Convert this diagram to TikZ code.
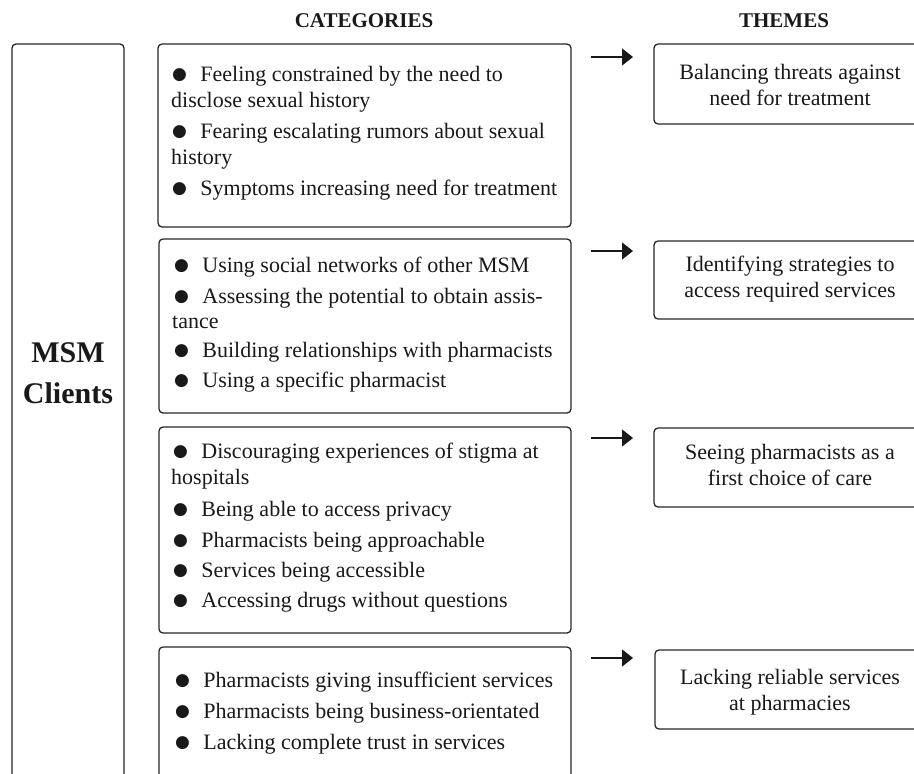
\documentclass[tikz,border=0pt]{standalone}
\usepackage{fontspec}
\setmainfont{Liberation Serif}
\newfontfamily\symfont{DejaVu Sans}
\usetikzlibrary{arrows.meta}
\newcommand\bul{\raisebox{1.5pt}{\symfont\fontsize{17}{17}\selectfont ●}\hspace{13.4pt}}
\begin{document}
\begin{tikzpicture}[x=1pt,y=-1pt,
  box/.style={draw=black!85, line width=1.3pt, rounded corners=4pt, inner sep=0pt, outer sep=0pt, anchor=north west},
  item/.style={anchor=base west, inner sep=0pt, text=black!90, font=\fontsize{22}{26}\selectfont},
  theme/.style={anchor=base, inner sep=0pt, text=black!90, font=\fontsize{22}{26}\selectfont},
  head/.style={anchor=base, inner sep=0pt, text=black!90, font=\bfseries\fontsize{21}{25}\selectfont},
  big/.style={anchor=base, inner sep=0pt, text=black!90, font=\bfseries\fontsize{30}{34}\selectfont},
  arr/.style={-{Triangle[length=11pt,width=17pt]}, line width=1.5pt, draw=black!90, fill=black!90}]
\useasboundingbox (0,0) rectangle (914,774);

% headers
\node[head] (hcat) at (364,27) {CATEGORIES};
\node[head] (hthm) at (784,27) {THEMES};

% left box
\node[box, minimum width=112pt, minimum height=760pt] (msm) at (12,44) {};
\node[big] (msm1) at (68,362) {MSM};
\node[big] (msm2) at (68,403) {Clients};

% category boxes
\node[box, minimum width=413pt, minimum height=183pt] (c1) at (158,44) {};
\node[box, minimum width=412pt, minimum height=174pt] (c2) at (159,239) {};
\node[box, minimum width=412pt, minimum height=206pt] (c3) at (159,427) {};
\node[box, minimum width=412pt, minimum height=160pt] (c4) at (159,647) {};

% theme boxes
\node[box, minimum width=273pt, minimum height=80pt] (t1) at (654,44) {};
\node[box, minimum width=273pt, minimum height=78pt] (t2) at (654,241) {};
\node[box, minimum width=273pt, minimum height=79pt] (t3) at (654,428) {};
\node[box, minimum width=273pt, minimum height=79pt] (t4) at (655,650) {};

% arrows
\coordinate (a1s) at (591,57);  \coordinate (a1e) at (633,57);
\coordinate (a2s) at (591,251); \coordinate (a2e) at (633,251);
\coordinate (a3s) at (591,438); \coordinate (a3e) at (633,438);
\coordinate (a4s) at (591,658); \coordinate (a4e) at (633,658);
\draw[arr] (a1s) -- (a1e);
\draw[arr] (a2s) -- (a2e);
\draw[arr] (a3s) -- (a3e);
\draw[arr] (a4s) -- (a4e);

% box 1 text
\node[item] (l11) at (172,81) {\bul Feeling constrained by the need to};
\node[item] (l12) at (171,107) {disclose sexual history};
\node[item] (l13) at (172,138) {\bul Fearing escalating rumors about sexual};
\node[item] (l14) at (171,164) {history};
\node[item] (l15) at (172,195) {\bul Symptoms increasing need for treatment};

% box 2 text
\node[item] (l21) at (174,272) {\bul Using social networks of other MSM};
\node[item] (l22) at (174,303) {\bul Assessing the potential to obtain assis-};
\node[item] (l23) at (172,328) {tance};
\node[item] (l24) at (174,357) {\bul Building relationships with pharmacists};
\node[item] (l25) at (174,387) {\bul Using a specific pharmacist};

% box 3 text
\node[item] (l31) at (173,458) {\bul Discouraging experiences of stigma at};
\node[item] (l32) at (171,484) {hospitals};
\node[item] (l33) at (173,516) {\bul Being able to access privacy};
\node[item] (l34) at (173,547) {\bul Pharmacists being approachable};
\node[item] (l35) at (173,577) {\bul Services being accessible};
\node[item] (l36) at (173,607) {\bul Accessing drugs without questions};

% box 4 text
\node[item] (l41) at (175,687) {\bul Pharmacists giving insufficient services};
\node[item] (l42) at (175,718) {\bul Pharmacists being business-orientated};
\node[item] (l43) at (175,749) {\bul Lacking complete trust in services};

% theme texts
\node[theme] (t11) at (790,79) {Balancing threats against};
\node[theme] (t12) at (790,105) {need for treatment};
\node[theme] (t21) at (790,271) {Identifying strategies to};
\node[theme] (t22) at (790,297) {access required services};
\node[theme] (t31) at (790,459) {Seeing pharmacists as a};
\node[theme] (t32) at (790,485) {first choice of care};
\node[theme] (t41) at (790,684) {Lacking reliable services};
\node[theme] (t42) at (790,710) {at pharmacies};
\end{tikzpicture}
\end{document}
